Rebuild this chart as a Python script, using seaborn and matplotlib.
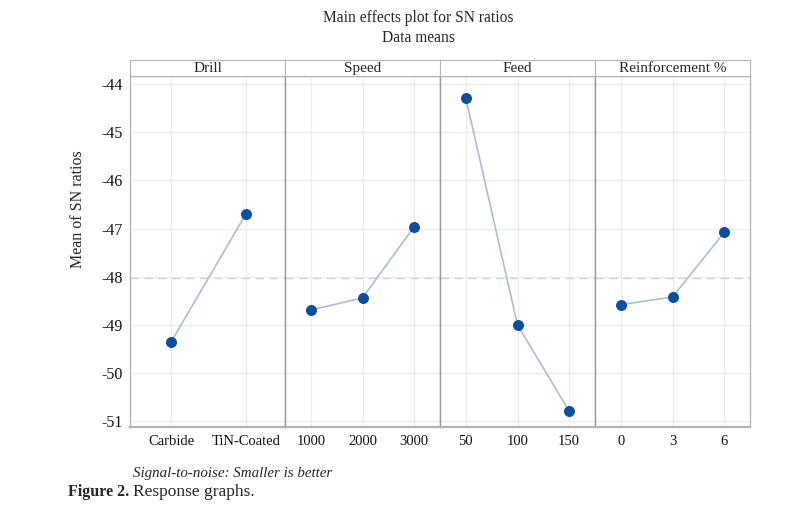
import numpy as np
import pandas as pd
import matplotlib
matplotlib.use("Agg")
import matplotlib.pyplot as plt
import seaborn as sns

# factors and levels
factors = ["Drill", "Speed", "Feed", "Reinforcement %"]
drill_levels = ["Carbide", "TiN-Coated"]
speed_levels = ["1000", "2000", "3000"]
feed_levels = ["50", "100", "150"]
reinf_levels = ["0", "3", "6"]

drill_sn = [-49.35, -46.69]
speed_sn = [-48.69, -48.44, -46.96]
feed_sn = [-44.29, -49.00, -50.79]
reinf_sn = [-48.58, -48.42, -47.08]

grand_mean = -48.03
yticks = [-51, -50, -49, -48, -47, -46, -45, -44]

levels = [drill_levels, speed_levels, feed_levels, reinf_levels]
values = [drill_sn, speed_sn, feed_sn, reinf_sn]

sns.set_style("white")
plt.rcParams["font.family"] = ["Liberation Serif", "DejaVu Serif"]

line_col = "#a9bfd5"
dot_col = "#0b4f9c"
frame_col = "#b4b4b4"
grid_col = "#ececec"

fig = plt.figure(figsize=(8.07, 5.07), dpi=100)

left, right = 130 / 807, 750 / 807
bottom, top = 1 - 427 / 507, 1 - 76 / 507
head_top = 1 - 60 / 507
w = (right - left) / 4

for i, (name, lv, vals) in enumerate(zip(factors, levels, values)):
    ax = fig.add_axes([left + i * w, bottom, w, top - bottom])
    df = pd.DataFrame({"level": lv, "sn": vals})
    sns.pointplot(data=df, x="level", y="sn", ax=ax, color=line_col,
                  markers="o", linewidth=1.2, markersize=7,
                  markerfacecolor=dot_col, markeredgecolor=dot_col, zorder=5)
    ax.axhline(grand_mean, color="#d4d4d4", lw=1, ls=(0, (6, 4)), zorder=1)
    n = len(lv)
    if n == 2:
        ax.set_xlim(-0.55, 1.52)
    else:
        ax.set_xlim(-0.5, n - 0.5)
    ax.set_ylim(-51.12, -43.83)
    ax.set_yticks(yticks)
    for k in range(n):
        ax.axvline(k, color=grid_col, lw=0.9, zorder=0)
    for t in yticks:
        ax.axhline(t, color=grid_col, lw=0.9, zorder=0)
    ax.set_xlabel("")
    ax.set_ylabel("")
    ax.tick_params(axis="x", length=0, labelsize=10.5, pad=6, colors="#111111")
    if i == 0:
        ax.set_yticklabels([str(t) for t in yticks])
        ax.tick_params(axis="y", length=3, labelsize=11.5, pad=2,
                       colors="#111111")
        ax.tick_params(axis="y", color=frame_col)
    else:
        ax.set_yticklabels([])
        ax.tick_params(axis="y", length=0)
    for s in ax.spines.values():
        s.set_color(frame_col)
        s.set_linewidth(1.0)
    ax.spines["bottom"].set_linewidth(1.6)
    if i > 0:
        ax.spines["left"].set_color("#9a9a9a")

    hx = fig.add_axes([left + i * w, top, w, head_top - top])
    hx.set_xticks([])
    hx.set_yticks([])
    for s in hx.spines.values():
        s.set_color(frame_col)
    hx.text(0.5, 0.45, name, ha="center", va="center", fontsize=11,
            transform=hx.transAxes)

fig.text(78 / 807, 1 - 209 / 507, "Mean of SN ratios", rotation=90,
         ha="center", va="center", fontsize=11.5)
fig.text(418 / 807, 1 - 18 / 507, "Main effects plot for SN ratios",
         ha="center", va="center", fontsize=11.2)
fig.text(418 / 807, 1 - 38 / 507, "Data means", ha="center", va="center",
         fontsize=11.2)
fig.text(133 / 807, 1 - 473 / 507, "Signal-to-noise: Smaller is better",
         ha="left", va="center", fontsize=10.8, style="italic")
fig.text(68 / 807, 1 - 492 / 507, "Figure 2.", ha="left", va="center",
         fontsize=11.5, weight="bold")
fig.text(133 / 807, 1 - 492 / 507, "Response graphs.", ha="left",
         va="center", fontsize=12.5)

fig.savefig("out.png", dpi=100)
